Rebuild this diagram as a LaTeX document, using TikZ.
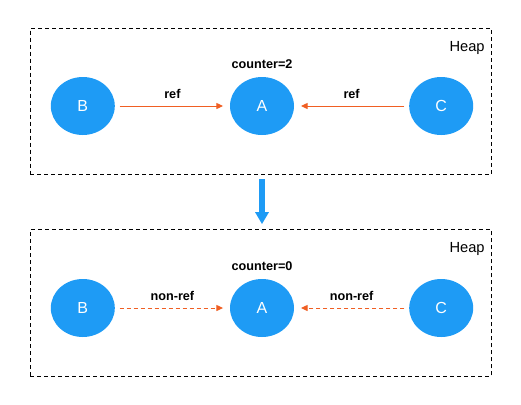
\documentclass[tikz,border=0pt]{standalone}
\usepackage{fontspec}
\setmainfont{Liberation Sans}
\usepackage{xcolor}
\usetikzlibrary{positioning,arrows.meta,shapes.geometric}

\definecolor{objblue}{RGB}{30,155,245}
\definecolor{refred}{RGB}{240,95,35}

\begin{document}
\begin{tikzpicture}[
  x=0.75pt, y=-0.75pt,
  node distance=86pt,
  heap/.style={rectangle, draw=black, line width=0.75pt,
               dash pattern=on 3pt off 2.25pt,
               minimum width=345.75pt, minimum height=110pt},
  obj/.style={ellipse, fill=objblue, text=white,
              minimum width=48pt, minimum height=43.5pt,
              font=\fontsize{12}{14}\selectfont},
  lbl/.style={font=\fontsize{9.5}{11}\selectfont\bfseries, text=black},
  heaplbl/.style={font=\fontsize{11}{13}\selectfont},
  arr/.style={-{Triangle[length=5pt,width=4.5pt]}, draw=refred, line width=0.75pt,
              shorten <=3.5pt, shorten >=5pt},
  narr/.style={arr, dash pattern=on 3pt off 2.25pt},
  down/.style={-{Triangle[length=9pt,width=9.75pt]}, draw=objblue, line width=4.5pt,
               shorten <=3pt, shorten >=3.75pt}]
  \useasboundingbox (0,0) rectangle (521,404);
  % upper heap
  \node[heap] (heap1) at (260.5,101.5) {};
  \node[heaplbl, below left=10pt and 5pt of heap1.north east, inner sep=0pt] {Heap};
  \node[obj] (A1) at (262,106) {A};
  \node[obj, left=of A1] (B1) {B};
  \node[obj, right=of A1] (C1) {C};
  \node[lbl, above=5pt of A1, inner sep=1pt] {counter=2};
  \draw[arr] (B1) -- node[lbl, above=2pt] {ref} (A1);
  \draw[arr] (C1) -- node[lbl, above=2pt] {ref} (A1);
  % lower heap
  \node[heap] (heap2) at (260.5,303) {};
  \node[heaplbl, below left=10pt and 5pt of heap2.north east, inner sep=0pt] {Heap};
  \node[obj] (A2) at (262,308) {A};
  \node[obj, left=of A2] (B2) {B};
  \node[obj, right=of A2] (C2) {C};
  \node[lbl, above=5pt of A2, inner sep=1pt] {counter=0};
  \draw[narr] (B2) -- node[lbl, above=2pt] {non-ref} (A2);
  \draw[narr] (C2) -- node[lbl, above=2pt] {non-ref} (A2);
  % step between them
  \draw[down] (heap1.south -| A1) -- (heap2.north -| A2);
\end{tikzpicture}
\end{document}
